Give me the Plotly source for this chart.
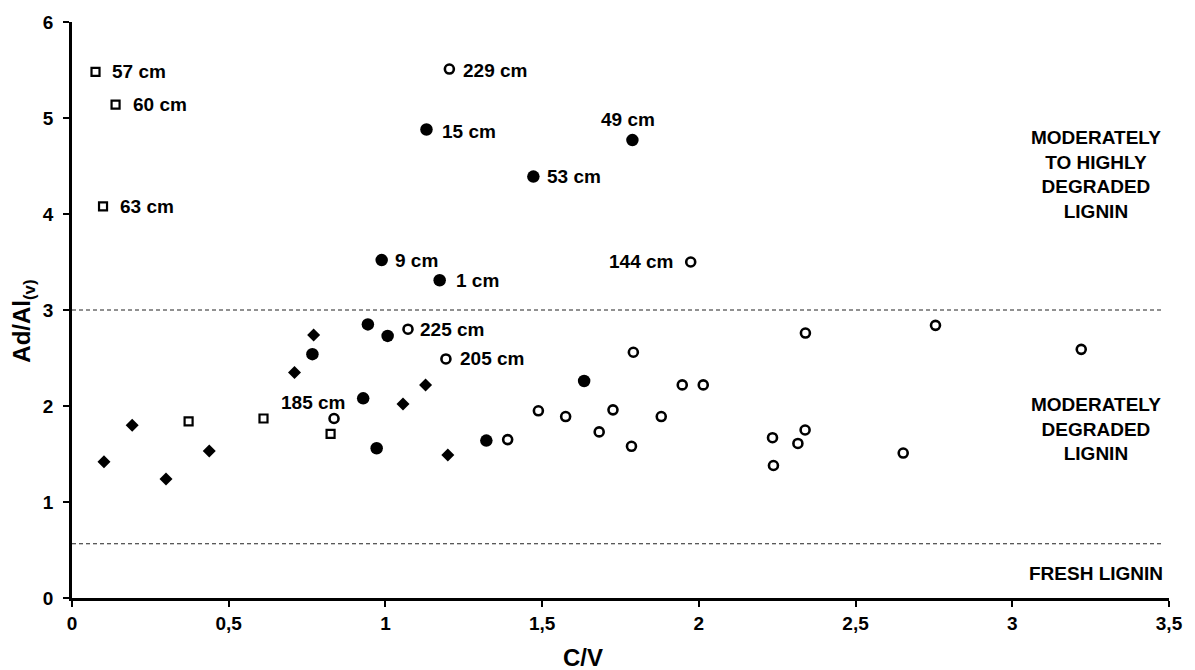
import plotly.graph_objects as go

# ---- data (C/V, Ad/Al(v)) ----
sq_x = [0.075, 0.139, 0.099, 0.372, 0.611, 0.825]
sq_y = [5.48, 5.14, 4.08, 1.84, 1.87, 1.71]

dia_x = [0.102, 0.192, 0.300, 0.438, 0.710, 0.771, 1.056, 1.128, 1.199]
dia_y = [1.42, 1.80, 1.24, 1.53, 2.35, 2.74, 2.02, 2.22, 1.49]

fill_x = [0.988, 1.131, 1.788, 1.472, 1.173, 0.767, 0.944, 1.007, 0.929, 0.972, 1.322, 1.634]
fill_y = [3.52, 4.88, 4.77, 4.39, 3.31, 2.54, 2.85, 2.73, 2.08, 1.56, 1.64, 2.26]

open_x = [1.204, 1.974, 1.072, 1.193, 0.836, 1.390, 1.488, 1.575, 1.682, 1.726, 1.791, 1.785,
          1.880, 1.947, 2.014, 2.235, 2.238, 2.316, 2.339, 2.340, 2.652, 2.755, 3.220]
open_y = [5.51, 3.50, 2.80, 2.49, 1.87, 1.65, 1.95, 1.89, 1.73, 1.96, 2.56, 1.58,
          1.89, 2.22, 2.22, 1.67, 1.38, 1.61, 1.75, 2.76, 1.51, 2.84, 2.59]

# point labels: (series, index, text)
labels = [
    ("sq", 0, "57 cm"), ("sq", 1, "60 cm"), ("sq", 2, "63 cm"),
    ("fill", 0, "9 cm"), ("fill", 1, "15 cm"), ("fill", 2, "49 cm"),
    ("fill", 3, "53 cm"), ("fill", 4, "1 cm"),
    ("open", 0, "229 cm"), ("open", 1, "144 cm"), ("open", 2, "225 cm"),
    ("open", 3, "205 cm"), ("open", 4, "185 cm"),
]

thresholds = [3.0, 0.565]
zone_labels = ["MODERATELY<br>TO HIGHLY<br>DEGRADED<br>LIGNIN",
               "MODERATELY<br>DEGRADED<br>LIGNIN",
               "FRESH LIGNIN"]
zone_y = [4.41, 1.756, 0.26]
zone_x = 3.267

FONT = "Liberation Sans, Arial, sans-serif"
series = {"sq": (sq_x, sq_y), "dia": (dia_x, dia_y), "fill": (fill_x, fill_y), "open": (open_x, open_y)}

fig = go.Figure()
fig.add_trace(go.Scatter(x=dia_x, y=dia_y, mode="markers",
                         marker=dict(symbol="diamond", size=10, color="black")))
fig.add_trace(go.Scatter(x=sq_x, y=sq_y, mode="markers",
                         marker=dict(symbol="square-open", size=8, color="black", line=dict(width=2.2, color="black"))))
fig.add_trace(go.Scatter(x=fill_x, y=fill_y, mode="markers",
                         marker=dict(symbol="circle", size=12.5, color="black")))
fig.add_trace(go.Scatter(x=open_x, y=open_y, mode="markers",
                         marker=dict(symbol="circle-open", size=9, color="black", line=dict(width=2.6, color="black"))))

for t in thresholds:
    fig.add_shape(type="line", xref="paper", yref="y", x0=0, x1=0.995, y0=t, y1=t,
                  line=dict(color="#222222", width=1, dash="4px,3px"))

# label placement (pixel offsets from marker centre)
placement = {
    "57 cm": ("left", 14, 0), "60 cm": ("left", 15, 0), "63 cm": ("left", 15, 0),
    "9 cm": ("left", 11, 0), "15 cm": ("left", 14, -2), "49 cm": ("center", -4, 21),
    "53 cm": ("left", 12, 0), "1 cm": ("left", 14, 0),
    "229 cm": ("left", 12, -1), "144 cm": ("right", -16, 1), "225 cm": ("left", 10, 0),
    "205 cm": ("left", 12, 0), "185 cm": ("right", 13, 16),
}
for s, i, txt in labels:
    xs, ys = series[s]
    anc, dx, dy = placement[txt]
    fig.add_annotation(x=xs[i], y=ys[i], xref="x", yref="y", text=txt, showarrow=False,
                       xanchor=anc, yanchor="middle", xshift=dx, yshift=dy,
                       font=dict(family=FONT, size=19, color="black", weight="bold"))

for txt, yy in zip(zone_labels, zone_y):
    fig.add_annotation(x=zone_x, y=yy, xref="x", yref="y", text=txt, showarrow=False,
                       xanchor="center", yanchor="middle", align="center",
                       font=dict(family=FONT, size=19, color="black", weight="bold"))

# axis titles
fig.add_annotation(x=0.4655, y=-0.104, xref="paper", yref="paper", text="C/V", showarrow=False,
                   xanchor="center", yanchor="middle",
                   font=dict(family=FONT, size=24, color="black", weight="bold"))
fig.add_annotation(x=-0.0445, y=0.48, xref="paper", yref="paper",
                   text="Ad/Al<sub>(v)</sub>", showarrow=False, textangle=-90,
                   xanchor="center", yanchor="middle",
                   font=dict(family=FONT, size=24, color="black", weight="bold"))

axis_common = dict(showgrid=False, zeroline=False, showline=True, linecolor="black", linewidth=2.5,
                   ticks="outside", ticklen=6, tickwidth=2, tickcolor="black",
                   tickfont=dict(family=FONT, size=19, color="black", weight="bold"))
fig.update_xaxes(range=[0, 3.5], dtick=0.5, tick0=0, **axis_common)
fig.update_yaxes(range=[0, 6], dtick=1, tick0=0, ticklabelstandoff=6, **axis_common)

fig.update_layout(width=1195, height=670, showlegend=False, separators=",.",
                  plot_bgcolor="white", paper_bgcolor="white",
                  margin=dict(l=72, r=23, t=16, b=72),
                  font=dict(family=FONT, color="black"))

fig.write_html("out.html", config={"displayModeBar": False},
               post_script="document.body.style.margin='0';document.body.style.overflow='hidden';")
